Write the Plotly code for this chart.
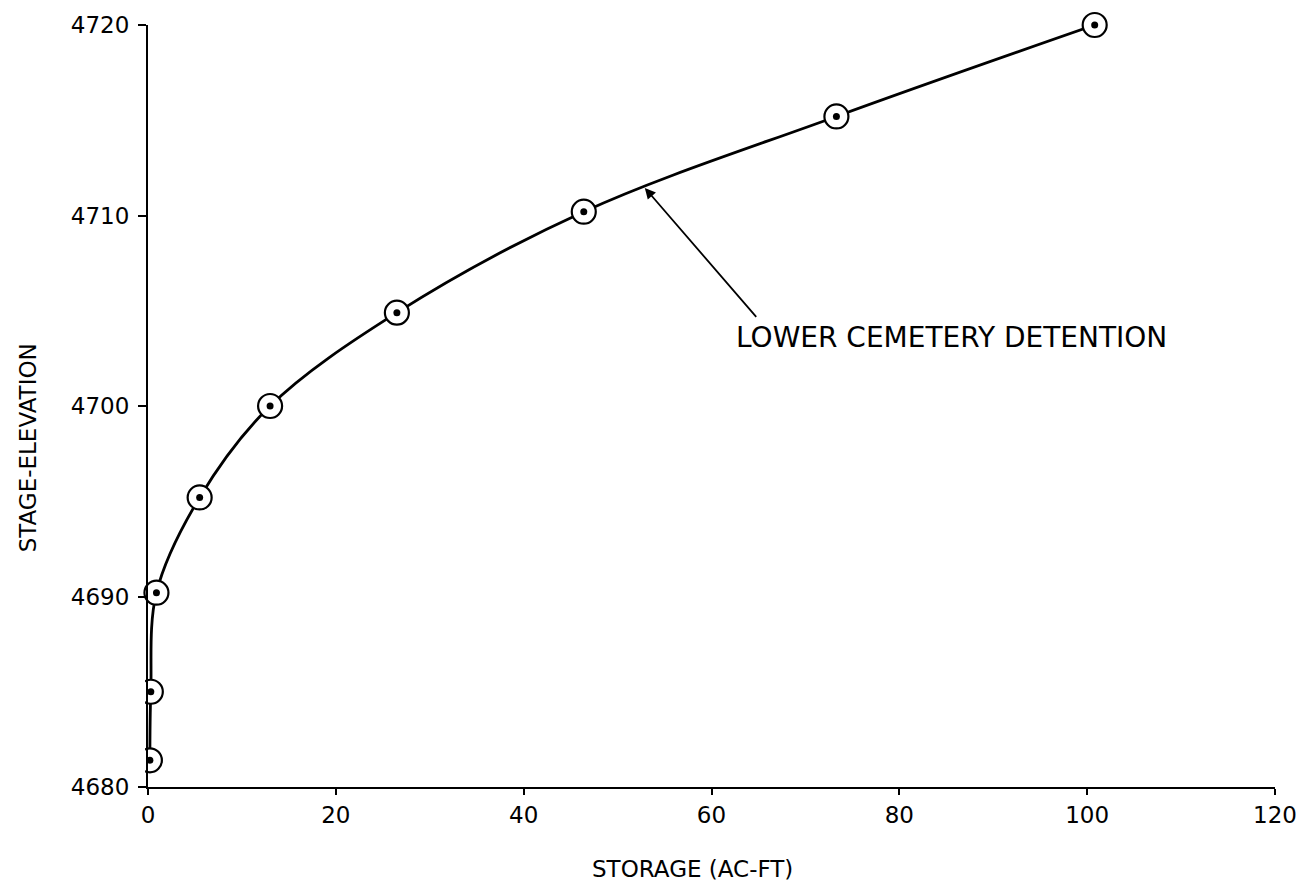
import plotly.graph_objects as go

# Data
storage = [0.2, 0.3, 0.9, 5.5, 13.0, 26.5, 46.4, 73.3, 100.8]          # AC-FT
stage = [4681.4, 4685.0, 4690.2, 4695.2, 4700.0, 4704.9, 4710.2, 4715.2, 4720.0]
x_ticks = [0, 20, 40, 60, 80, 100, 120]
y_ticks = [4680, 4690, 4700, 4710, 4720]
curve_label = "LOWER CEMETERY DETENTION"

FONT = "DejaVu Sans"
BLACK = "#000000"

fig = go.Figure()

# smooth curve
fig.add_trace(go.Scatter(
    x=storage, y=stage, mode="lines",
    line=dict(color=BLACK, width=2.8, shape="spline", smoothing=1.0),
    hoverinfo="skip", showlegend=False,
))

# circled-dot markers
fig.add_trace(go.Scatter(
    x=storage, y=stage, mode="markers",
    marker=dict(symbol="circle", size=24, color="white",
                line=dict(color=BLACK, width=2.2)),
    cliponaxis=False, showlegend=False,
))
fig.add_trace(go.Scatter(
    x=storage, y=stage, mode="markers",
    marker=dict(symbol="circle", size=7, color=BLACK),
    cliponaxis=False, showlegend=False,
))

# in the reference the circles hugging the y-axis are cut by it
fig.add_shape(
    type="rect", xref="paper", yref="y", x0=-0.014, x1=-0.0026, y0=4680.4, y1=4686.5,
    fillcolor="white", line=dict(width=0), layer="above",
)

# leader arrow
fig.add_annotation(
    x=52.9, y=4711.45, ax=64.9, ay=4704.6, xref="x", yref="y",
    axref="x", ayref="y", text="", showarrow=True,
    arrowhead=2, arrowsize=1.2, arrowwidth=1.8, arrowcolor=BLACK, standoff=0,
)
# curve label
fig.add_annotation(
    x=85.6, y=4703.6, xref="x", yref="y", text=curve_label, showarrow=False,
    font=dict(family=FONT, size=28, color=BLACK), xanchor="center", yanchor="middle",
)

# axis titles
fig.add_annotation(
    x=0.483, y=-0.107, xref="paper", yref="paper", text="STORAGE (AC-FT)",
    showarrow=False, font=dict(family=FONT, size=23, color=BLACK),
    xanchor="center", yanchor="middle",
)
fig.add_annotation(
    x=-0.107, y=0.445, xref="paper", yref="paper", text="STAGE-ELEVATION",
    showarrow=False, textangle=-90, font=dict(family=FONT, size=23, color=BLACK),
    xanchor="center", yanchor="middle",
)

axis_common = dict(
    showgrid=False, zeroline=False, showline=True, linecolor=BLACK, linewidth=2,
    ticks="outside", tickwidth=2, tickcolor=BLACK,
    tickfont=dict(family=FONT, size=23, color=BLACK),
)
fig.update_xaxes(range=[0, 120], tickvals=x_ticks, ticklen=6,
                 ticktext=[str(v) for v in x_ticks], **axis_common)
fig.update_yaxes(range=[4680, 4720], tickvals=y_ticks, ticklen=8,
                 ticktext=[str(v) for v in y_ticks], ticklabelstandoff=4, **axis_common)

fig.update_layout(
    width=1307, height=885,
    margin=dict(l=148, r=32, t=25, b=98, autoexpand=False),
    paper_bgcolor="white", plot_bgcolor="white",
    font=dict(family=FONT, color=BLACK),
)

fig.write_html(
    "out.html",
    config={"displayModeBar": False},
    post_script="document.body.style.margin='0';document.body.style.overflow='hidden';",
)
